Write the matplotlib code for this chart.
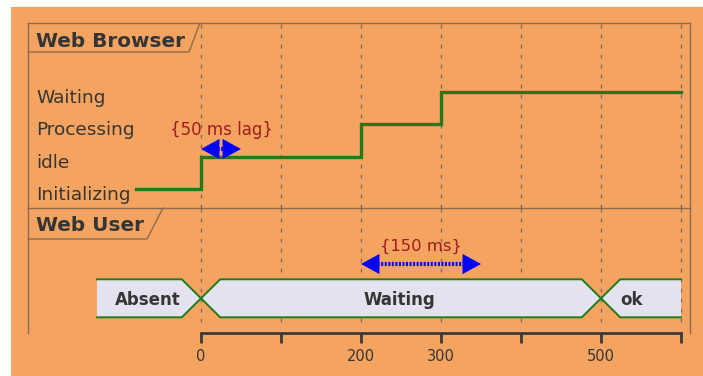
import matplotlib
matplotlib.use("Agg")
import matplotlib.pyplot as plt
from matplotlib.lines import Line2D
from matplotlib.patches import Rectangle, Polygon, FancyArrowPatch
import matplotlib.transforms as mtransforms

# ── data ────────────────────────────────────────────────────────────
browser_states = ["Initializing", "idle", "Processing", "Waiting"]
browser_times = [-81, 0, 200, 300, 600]
browser_values = ["Initializing", "idle", "Processing", "Waiting", "Waiting"]

user_states = ["Absent", "Waiting", "ok"]
user_starts = [-130, 0, 500]
user_ends = [0, 500, 600]

tick_values = [0, 100, 200, 300, 400, 500, 600]
tick_labels = ["0", "", "200", "300", "", "500", ""]

lag_span = (0, 50)
lag_text = "{50 ms lag}"
wait_span = (200, 350)
wait_text = "{150 ms}"

# ── style ───────────────────────────────────────────────────────────
W, H = 703, 376
BG = "#F4A460"
FRAME = "#8E6B4E"
GRID = "#6F6863"
TEXT = "#353535"
GREEN = "#237A1A"
BOX = "#E3E3EF"
NOTE = "#A11C1C"
BLUE = "#0000FF"
XMIN, XMAX = -216.25, 611.25


def fx(px):
    return px / W


def fy(py):
    return 1 - py / H


def span_arrow(ax, x0, x1, y):
    # dotted shaft (kept inside the heads), filled heads
    inset = 8
    ax.plot([x0 + inset, x1 - inset], [y, y], color=BLUE, lw=3.0, ls=(0, (0.5, 0.35)),
            solid_capstyle="butt", dash_capstyle="butt", zorder=4)
    ax.add_patch(FancyArrowPatch((x0, y), (x1, y),
                                 arrowstyle="<|-|>,head_length=0.95,head_width=0.52",
                                 mutation_scale=14, color=BLUE, lw=0,
                                 shrinkA=0, shrinkB=0, zorder=5))


fig = plt.figure(figsize=(W / 100, H / 100), dpi=100, facecolor="white")
fig.add_artist(Rectangle((fx(11), 0), 1 - fx(11), fy(7), transform=fig.transFigure,
                         facecolor=BG, edgecolor="none", zorder=0))

ax_b = fig.add_axes([fx(28), fy(208), fx(690) - fx(28), fy(23) - fy(208)])
ax_u = fig.add_axes([fx(28), fy(333), fx(690) - fx(28), fy(208) - fy(333)])

for ax in (ax_b, ax_u):
    ax.set_facecolor("none")
    ax.set_xlim(XMIN, XMAX)
    for s in ax.spines.values():
        s.set_color(FRAME)
        s.set_linewidth(1.0)

# ── Web Browser lane ────────────────────────────────────────────────
ax_b.set_ylim(-0.575, 5.117)
ax_b.set_xticks([])
ax_b.set_yticks([])
for t in tick_values:
    ax_b.axvline(t, color=GRID, lw=0.9, ls=(0, (3, 5)), zorder=1)

yvals = [browser_states.index(v) for v in browser_values]
ax_b.step(browser_times, yvals, where="post", color=GREEN, lw=2.4,
          solid_joinstyle="miter", zorder=3)

lab_trans = mtransforms.offset_copy(ax_b.transData, fig=fig, y=-11, units="dots")
lab_trans = mtransforms.blended_transform_factory(ax_b.transAxes, lab_trans)
for i, name in enumerate(browser_states):
    ax_b.text(fx(36 - 28) / fx(662), i, name, transform=lab_trans, ha="left",
              va="baseline", fontsize=13.3, color=TEXT)

ax_b.text(sum(lag_span) / 2, 1.67, lag_text, ha="center", va="baseline",
          fontsize=12, color=NOTE, zorder=4)
span_arrow(ax_b, lag_span[0], lag_span[1], 1.24)

# ── Web User lane ───────────────────────────────────────────────────
ax_u.set_ylim(-1.826, 4.753)
ax_u.spines["top"].set_visible(False)
for t in tick_values:
    ax_u.plot([t, t], [-1.25, 4.753], color=GRID, lw=0.9, ls=(0, (3, 5)), zorder=1)

d = 24  # half width of the crossing
for k, (name, a, b) in enumerate(zip(user_states, user_starts, user_ends)):
    if k == 0:
        pts = [(a, -1), (a, 1), (b - d, 1), (b, 0), (b - d, -1)]
    elif k == len(user_states) - 1:
        pts = [(a, 0), (a + d, 1), (b, 1), (b, -1), (a + d, -1)]
    else:
        pts = [(a, 0), (a + d, 1), (b - d, 1), (b, 0), (b - d, -1), (a + d, -1)]
    ax_u.add_patch(Polygon(pts, closed=True, facecolor=BOX, edgecolor="none", zorder=2))
    top = sorted(p for p in pts if p[1] >= 0)
    bot = sorted(p for p in pts if p[1] <= 0)
    ax_u.plot([p[0] for p in top], [p[1] for p in top], color=GREEN, lw=1.4, zorder=3)
    ax_u.plot([p[0] for p in bot], [p[1] for p in bot], color=GREEN, lw=1.4, zorder=3)
    if b - a <= 100:
        ax_u.text(a + d, -0.35, name, ha="left", va="baseline", fontsize=12,
                  fontweight="bold", color=TEXT, zorder=4)
    else:
        ax_u.text((a + b) / 2 - 2, -0.35, name, ha="center", va="baseline",
                  fontsize=12, fontweight="bold", color=TEXT, zorder=4)

ax_u.text(sum(wait_span) / 2, 2.49, wait_text, ha="center", va="baseline",
          fontsize=11.8, color=NOTE, zorder=4)
span_arrow(ax_u, wait_span[0], wait_span[1], 1.805)

# time axis
ax_u.set_yticks([])
ax_u.set_xticks(tick_values)
ax_u.set_xticklabels(tick_labels)
ax_u.spines["bottom"].set_bounds(tick_values[0], tick_values[-1])
ax_u.spines["bottom"].set_color("#3A3A3A")
ax_u.spines["bottom"].set_linewidth(2.0)
ax_u.tick_params(axis="x", direction="out", length=7.5, width=2.0, color="#3A3A3A",
                 labelsize=10.5, labelcolor=TEXT, pad=4)

# ── lane titles ─────────────────────────────────────────────────────
fig.add_artist(Line2D([fx(28), fx(189), fx(200)], [fy(52), fy(52), fy(23)],
                      transform=fig.transFigure, color=FRAME, lw=1.0))
fig.text(fx(36), fy(47), "Web Browser", ha="left", va="baseline", fontsize=14.4,
         fontweight="bold", color=TEXT)
fig.add_artist(Line2D([fx(28), fx(147), fx(163)], [fy(239), fy(239), fy(208)],
                      transform=fig.transFigure, color=FRAME, lw=1.0))
fig.text(fx(36), fy(231), "Web User", ha="left", va="baseline", fontsize=14.4,
         fontweight="bold", color=TEXT)

fig.savefig("out.png", dpi=100, facecolor=fig.get_facecolor())
